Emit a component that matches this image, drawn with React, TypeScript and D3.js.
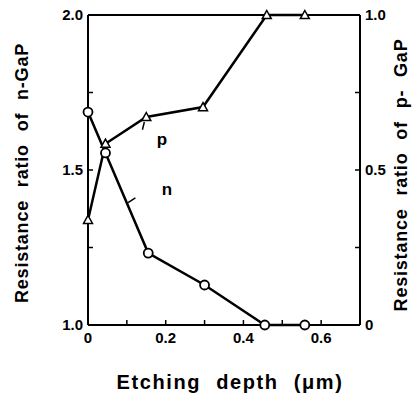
import React from "react";
import { scaleLinear, line } from "d3";

// n-GaP (circles, left axis)
const nDepth = [0, 0.045, 0.155, 0.3, 0.455, 0.558];
const nRatio = [1.687, 1.555, 1.232, 1.129, 1.0, 1.0];
// p-GaP (triangles, right axis)
const pDepth = [0, 0.045, 0.15, 0.296, 0.46, 0.558];
const pRatio = [0.339, 0.585, 0.671, 0.703, 1.0, 1.0];

const xTicks = [0, 0.1, 0.2, 0.3, 0.4, 0.5, 0.6];
const xTickLabels = ["0", "", "0.2", "", "0.4", "", "0.6"];
const leftTicks = [1.0, 1.25, 1.5, 1.75, 2.0];
const leftTickLabels = ["1.0", "", "1.5", "", "2.0"];
const rightTicks = [0, 0.25, 0.5, 0.75, 1.0];
const rightTickLabels = ["0", "", "0.5", "", "1.0"];

const W = 420;
const H = 404;
const left = 88;
const right = 360;
const top = 15;
const bottom = 325;

const font = "'Liberation Sans', Arial, sans-serif";

export default function App() {
  const x = scaleLinear().domain([0, 0.7]).range([left, right]);
  const yL = scaleLinear().domain([1, 2]).range([bottom, top]);
  const yR = scaleLinear().domain([0, 1]).range([bottom, top]);

  const nLine = line<number>()
    .x((_, i) => x(nDepth[i]))
    .y((d) => yL(d));
  const pLine = line<number>()
    .x((_, i) => x(pDepth[i]))
    .y((d) => yR(d));

  const tri = (cx: number, cy: number, s = 4.5) =>
    `M${cx},${cy - s} L${cx + s},${cy + s * 0.8} L${cx - s},${cy + s * 0.8} Z`;

  return (
    <svg
      width={W}
      height={H}
      style={{ position: "absolute", left: 0, top: 0, background: "#fff" }}
      fontFamily={font}
    >
      {/* frame */}
      <g stroke="#000" strokeWidth={2} fill="none">
        <line x1={left} y1={top} x2={right} y2={top} />
        <line x1={left} y1={top} x2={left} y2={bottom} />
        <line x1={right} y1={top} x2={right} y2={bottom} />
        <line x1={left} y1={bottom} x2={right} y2={bottom} />
      </g>

      {/* x axis ticks */}
      {xTicks.map((t, i) => (
        <g key={"x" + i}>
          <line x1={x(t)} x2={x(t)} y1={bottom} y2={bottom - 5} stroke="#000" strokeWidth={1.5} />
          <text x={x(t)} y={bottom + 18} textAnchor="middle" fontSize={15} fontWeight="bold">
            {xTickLabels[i]}
          </text>
        </g>
      ))}

      {/* left axis ticks */}
      {leftTicks.map((t, i) => (
        <g key={"l" + i}>
          <line x1={left} x2={left + 5} y1={yL(t)} y2={yL(t)} stroke="#000" strokeWidth={1.5} />
          <text x={left - 5} y={yL(t) + 5} textAnchor="end" fontSize={15} fontWeight="bold">
            {leftTickLabels[i]}
          </text>
        </g>
      ))}

      {/* right axis ticks */}
      {rightTicks.map((t, i) => (
        <g key={"r" + i}>
          <line x1={right} x2={right - 5} y1={yR(t)} y2={yR(t)} stroke="#000" strokeWidth={1.5} />
          <text x={right + 5} y={yR(t) + 5} textAnchor="start" fontSize={15} fontWeight="bold">
            {rightTickLabels[i]}
          </text>
        </g>
      ))}

      {/* series lines */}
      <path d={nLine(nRatio) || ""} fill="none" stroke="#000" strokeWidth={2.5} />
      <path d={pLine(pRatio) || ""} fill="none" stroke="#000" strokeWidth={2.5} />

      {/* markers */}
      {nRatio.map((v, i) => (
        <circle key={"nc" + i} cx={x(nDepth[i])} cy={yL(v)} r={4.5} fill="#fff" stroke="#000" strokeWidth={1.8} />
      ))}
      {pRatio.map((v, i) => (
        <path key={"pt" + i} d={tri(x(pDepth[i]), yR(v))} fill="#fff" stroke="#000" strokeWidth={1.5} />
      ))}

      {/* annotations */}
      <text x={x(0.19)} y={yR(0.58)} fontSize={17} fontWeight="bold" textAnchor="middle">p</text>
      <line x1={x(0.14)} y1={yR(0.63)} x2={x(0.145)} y2={yR(0.655)} stroke="#000" strokeWidth={1.5} />
      <text x={x(0.203)} y={yL(1.42)} fontSize={17} fontWeight="bold" textAnchor="middle">n</text>
      <line x1={x(0.122)} y1={yL(1.41)} x2={x(0.103)} y2={yL(1.395)} stroke="#000" strokeWidth={1.5} />

      {/* axis titles */}
      <text
        transform={`translate(28,${(top + bottom) / 2 + 3}) rotate(-90)`}
        textAnchor="middle"
        fontSize={18}
        fontWeight="bold"
        letterSpacing={0.8}
        wordSpacing={7}
      >
        Resistance ratio of n-GaP
      </text>
      <text
        transform={`translate(407,${(top + bottom) / 2 + 5}) rotate(-90)`}
        textAnchor="middle"
        fontSize={18}
        fontWeight="bold"
        letterSpacing={0.8}
        wordSpacing={7}
      >
        Resistance ratio of p- GaP
      </text>
      <text
        x={(left + right) / 2 + 6}
        y={389}
        textAnchor="middle"
        fontSize={20}
        fontWeight="bold"
        letterSpacing={1.6}
        wordSpacing={8}
      >
        Etching depth (μm)
      </text>
    </svg>
  );
}
